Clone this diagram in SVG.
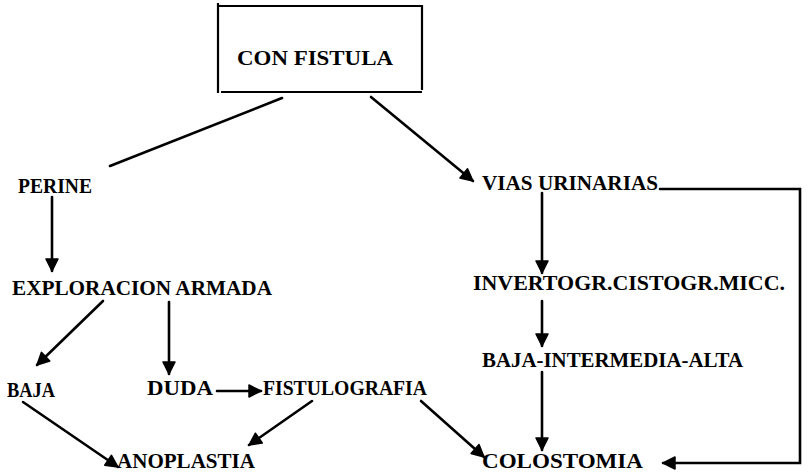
<svg xmlns="http://www.w3.org/2000/svg" width="809" height="476" viewBox="0 0 809 476">
<defs>
<marker id="ah" markerUnits="userSpaceOnUse" markerWidth="16" markerHeight="16" viewBox="0 0 16 16" refX="14" refY="8" orient="auto">
<path d="M2,2 L14,8 L2,14 Z" fill="#000" stroke="#000" stroke-width="1.5" stroke-linejoin="round"/>
</marker>
</defs>
<style>
.t{font-family:"Liberation Serif","Times New Roman",serif;font-weight:bold;font-size:20px;fill:#000}
.c{fill:none;stroke:#000;stroke-width:2.6;stroke-linecap:round}
.a{marker-end:url(#ah)}
</style>
<rect width="809" height="476" fill="#fff"/>
<g id="con-fistula">
<path d="M218,3 V93 M218,6 H422 V90 M221,92 H422" fill="none" stroke="#000" stroke-width="2.2"/>
<text class="t" x="237" y="65" font-size="22" textLength="156" lengthAdjust="spacingAndGlyphs">CON FISTULA</text>
</g>
<g id="perine"><text class="t" x="18" y="193" textLength="74" lengthAdjust="spacingAndGlyphs">PERINE</text></g>
<g id="vias-urinarias"><text class="t" x="482" y="190" textLength="176" lengthAdjust="spacingAndGlyphs">VIAS URINARIAS</text></g>
<g id="exploracion-armada"><text class="t" x="12" y="295" textLength="260" lengthAdjust="spacingAndGlyphs">EXPLORACION  ARMADA</text></g>
<g id="invertogr"><text class="t" x="473" y="290" textLength="312" lengthAdjust="spacingAndGlyphs">INVERTOGR.CISTOGR.MICC.</text></g>
<g id="baja-intermedia-alta"><text class="t" x="482" y="367" textLength="261" lengthAdjust="spacingAndGlyphs">BAJA-INTERMEDIA-ALTA</text></g>
<g id="baja"><text class="t" x="7" y="397" textLength="48" lengthAdjust="spacingAndGlyphs">BAJA</text></g>
<g id="duda"><text class="t" x="147" y="395" textLength="66" lengthAdjust="spacingAndGlyphs">DUDA</text></g>
<g id="fistulografia"><text class="t" x="263" y="395" textLength="164" lengthAdjust="spacingAndGlyphs">FISTULOGRAFIA</text></g>
<g id="anoplastia"><text class="t" x="117" y="468" textLength="138" lengthAdjust="spacingAndGlyphs">ANOPLASTIA</text></g>
<g id="colostomia"><text class="t" x="482" y="468" textLength="161" lengthAdjust="spacingAndGlyphs">COLOSTOMIA</text></g>
<g id="connectors">
<path class="c" d="M282,98 L110,166"/>
<path class="c a" d="M371,97 L473,181" stroke-width="3.4"/>
<path class="c a" d="M52,197 L52,271"/>
<path class="c a" d="M542,193 L542,273"/>
<path class="c a" d="M103,301 L37,365"/>
<path class="c a" d="M169,302 L169,374"/>
<path class="c a" d="M542,301 L542,346"/>
<path class="c a" d="M217,391 L261,391"/>
<path class="c a" d="M23,402 L118,467"/>
<path class="c a" d="M312,401 L249,445"/>
<path class="c a" d="M421,401 L484,457"/>
<path class="c a" d="M542,372 L542,450"/>
<path class="c a" d="M660,189 L800,189 L800,463 L663,463"/>
</g>
</svg>
